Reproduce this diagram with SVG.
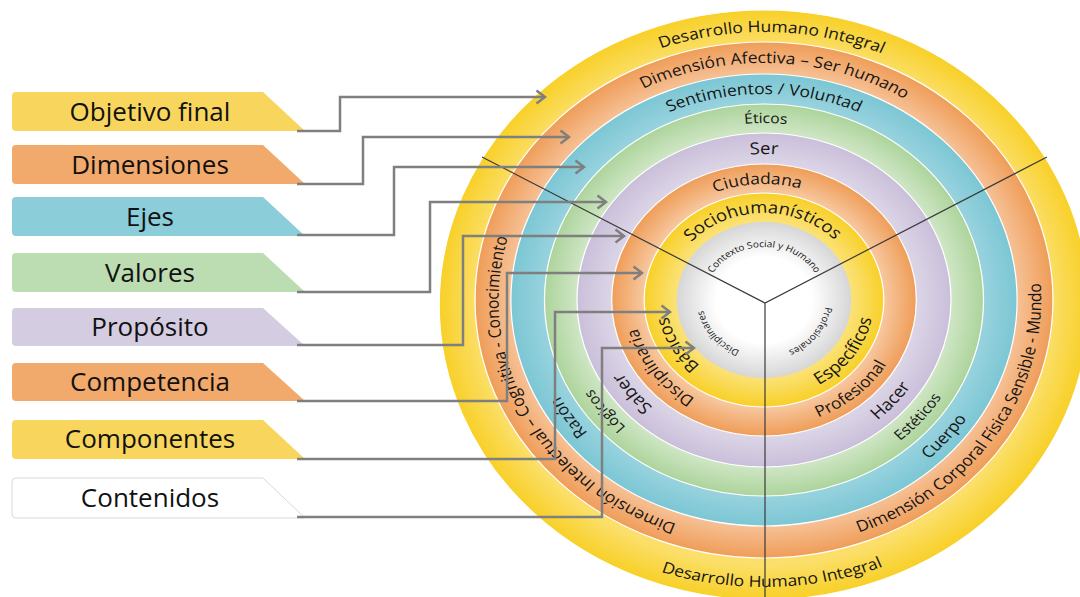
<svg xmlns="http://www.w3.org/2000/svg" xmlns:xlink="http://www.w3.org/1999/xlink" width="1080" height="597" viewBox="0 0 1080 597">
<style>
.lbl{font-family:"Open Sans","DejaVu Sans",sans-serif;font-size:26px;fill:#111111;text-anchor:middle}
.rt{font-family:"Open Sans","DejaVu Sans",sans-serif;fill:#151515;text-anchor:middle}
.f15{font-size:15.6px}.f16{font-size:16.5px}.f13{font-size:14px}.f9{font-size:9px}
.ring{stroke:#ffffff;stroke-width:1.1}
.conn{fill:none;stroke:#7f7f7f;stroke-width:2.5;marker-end:url(#arr)}
.div{fill:none;stroke:#3a3a3a;stroke-width:1.2}
</style>
<defs>
<marker id="arr" viewBox="-11 -8 13 16" refX="0" refY="0" markerWidth="13" markerHeight="16" markerUnits="userSpaceOnUse" orient="auto">
<path d="M-8.5,-6.5 L0,0 L-8.5,6.5" fill="none" stroke="#7f7f7f" stroke-width="2.5"/>
</marker>
<radialGradient id="gY1"><stop offset="0.88" stop-color="#FBDF6A"/><stop offset="1" stop-color="#F8D028"/></radialGradient>
<radialGradient id="gO1"><stop offset="0.876" stop-color="#F6C196"/><stop offset="1" stop-color="#EF9D58"/></radialGradient>
<radialGradient id="gB"><stop offset="0.867" stop-color="#98D3DE"/><stop offset="1" stop-color="#7CC6D4"/></radialGradient>
<radialGradient id="gG"><stop offset="0.852" stop-color="#CFE6C5"/><stop offset="1" stop-color="#ADD49C"/></radialGradient>
<radialGradient id="gP"><stop offset="0.814" stop-color="#DCD5E6"/><stop offset="1" stop-color="#CABFDA"/></radialGradient>
<radialGradient id="gO2"><stop offset="0.787" stop-color="#F7C8A0"/><stop offset="1" stop-color="#EF9D58"/></radialGradient>
<radialGradient id="gY2"><stop offset="0.729" stop-color="#FBE278"/><stop offset="1" stop-color="#F8D028"/></radialGradient>
<radialGradient id="gW"><stop offset="0.55" stop-color="#ffffff"/><stop offset="1" stop-color="#d6d6d6"/></radialGradient>
<path id="cw268" d="M268,0 A268,268 0 1 1 -268,0 A268,268 0 1 1 268,0"/>
<path id="cw237" d="M237,0 A237,237 0 1 1 -237,0 A237,237 0 1 1 237,0"/>
<path id="cw206" d="M206,0 A206,206 0 1 1 -206,0 A206,206 0 1 1 206,0"/>
<path id="cw177" d="M177,0 A177,177 0 1 1 -177,0 A177,177 0 1 1 177,0"/>
<path id="cw146" d="M146,0 A146,146 0 1 1 -146,0 A146,146 0 1 1 146,0"/>
<path id="cw116" d="M116,0 A116,116 0 1 1 -116,0 A116,116 0 1 1 116,0"/>
<path id="cw87" d="M87,0 A87,87 0 1 1 -87,0 A87,87 0 1 1 87,0"/>
<path id="cw53" d="M53,0 A53,53 0 1 1 -53,0 A53,53 0 1 1 53,0"/>
<path id="cw55" d="M55,0 A55,55 0 1 1 -55,0 A55,55 0 1 1 55,0"/>
<path id="ccw287" d="M-287,0 A287,287 0 1 0 287,0 A287,287 0 1 0 -287,0"/>
<path id="ccw247" d="M-247.5,0 A247.5,247.5 0 1 0 247.5,0 A247.5,247.5 0 1 0 -247.5,0"/>
<path id="ccw216" d="M-216.5,0 A216.5,216.5 0 1 0 216.5,0 A216.5,216.5 0 1 0 -216.5,0"/>
<path id="ccw186" d="M-186,0 A186,186 0 1 0 186,0 A186,186 0 1 0 -186,0"/>
<path id="ccw157" d="M-157,0 A157,157 0 1 0 157,0 A157,157 0 1 0 -157,0"/>
<path id="ccw127" d="M-127,0 A127,127 0 1 0 127,0 A127,127 0 1 0 -127,0"/>
<path id="ccw98" d="M-98,0 A98,98 0 1 0 98,0 A98,98 0 1 0 -98,0"/>
</defs>
<rect x="0" y="0" width="1080" height="597" fill="#ffffff"/>

<g id="rings" transform="translate(764,300) scale(1.12,1)">
<ellipse class="ring" cx="0" cy="5" rx="290" ry="295" fill="url(#gY1)"/>
<circle class="ring" r="258" fill="url(#gO1)"/>
<circle class="ring" r="226" fill="url(#gB)"/>
<circle class="ring" r="196" fill="url(#gG)"/>
<circle class="ring" r="167" fill="url(#gP)"/>
<circle class="ring" r="136" fill="url(#gO2)"/>
<circle class="ring" r="107" fill="url(#gY2)"/>
<circle r="78" fill="url(#gW)"/>

<text class="rt f15"><textPath href="#cw268" startOffset="75.42%">Desarrollo Humano Integral</textPath></text>
<text class="rt f15"><textPath href="#ccw287" startOffset="25.42%">Desarrollo Humano Integral</textPath></text>
<text class="rt f15"><textPath href="#cw237" startOffset="75.69%">Dimensión Afectiva – Ser humano</textPath></text>
<text class="rt f15"><textPath href="#cw237" startOffset="42.3%">Dimensión Intelectual – Cognitiva - Conocimiento</textPath></text>
<text class="rt f15"><textPath href="#ccw247" startOffset="40.83%">Dimensión Corporal Física Sensible - Mundo</textPath></text>
<text class="rt f15"><textPath href="#cw206" startOffset="75%">Sentimientos / Voluntad</textPath></text>
<text class="rt f15"><textPath href="#cw206" startOffset="40.56%">Razón</textPath></text>
<text class="rt f15"><textPath href="#ccw216" startOffset="38.8%">Cuerpo</textPath></text>
<text class="rt f13"><textPath href="#cw177" startOffset="75.14%">Éticos</textPath></text>
<text class="rt f13"><textPath href="#cw177" startOffset="39.44%">Lógicos</textPath></text>
<text class="rt f13"><textPath href="#ccw186" startOffset="38.78%">Estéticos</textPath></text>
<text class="rt f16"><textPath href="#cw146" startOffset="75%">Ser</textPath></text>
<text class="rt f16"><textPath href="#cw146" startOffset="39.3%">Saber</textPath></text>
<text class="rt f16"><textPath href="#ccw157" startOffset="38.44%">Hacer</textPath></text>
<text class="rt f15"><textPath href="#cw116" startOffset="74.17%">Ciudadana</textPath></text>
<text class="rt f15"><textPath href="#cw116" startOffset="40%">Disciplinaria</textPath></text>
<text class="rt f15"><textPath href="#ccw127" startOffset="36.39%">Profesional</textPath></text>
<text class="rt f16"><textPath href="#cw87" startOffset="74.72%">Sociohumanísticos</textPath></text>
<text class="rt f16"><textPath href="#cw87" startOffset="41.67%">Básicos</textPath></text>
<text class="rt f16"><textPath href="#ccw98" startOffset="40.14%">Específicos</textPath></text>
<text class="rt f9"><textPath href="#cw53" startOffset="75%">Contexto Social y Humano</textPath></text>
<text class="rt f9"><textPath href="#cw55" startOffset="39.17%">Disciplinares</textPath></text>
<text class="rt f9"><textPath href="#cw55" startOffset="10.28%">Profesionales</textPath></text>
</g>

<g id="dividers">
<path class="div" d="M482,157 L765,303 L1047,157 M765,303 L765,597"/>
</g>

<g id="n-objetivo"><path d="M16,92 H263 L305,131 H16 Q12,131 12,127 V96 Q12,92 16,92 Z" fill="#F8D65E"/><text class="lbl" x="150" y="121">Objetivo final</text></g>
<g id="n-dimensiones"><path d="M16,145 H263 L305,184 H16 Q12,184 12,180 V149 Q12,145 16,145 Z" fill="#F2A96C"/><text class="lbl" x="150" y="174">Dimensiones</text></g>
<g id="n-ejes"><path d="M16,197 H263 L305,236 H16 Q12,236 12,232 V201 Q12,197 16,197 Z" fill="#8BCDD9"/><text class="lbl" x="150" y="226">Ejes</text></g>
<g id="n-valores"><path d="M16,253 H263 L305,292 H16 Q12,292 12,288 V257 Q12,253 16,253 Z" fill="#BCDCB1"/><text class="lbl" x="150" y="282">Valores</text></g>
<g id="n-proposito"><path d="M16,308 H263 L305,346 H16 Q12,346 12,342 V312 Q12,308 16,308 Z" fill="#D4CCE1"/><text class="lbl" x="150" y="336">Propósito</text></g>
<g id="n-competencia"><path d="M16,363 H263 L305,401 H16 Q12,401 12,397 V367 Q12,363 16,363 Z" fill="#F2A96C"/><text class="lbl" x="150" y="391">Competencia</text></g>
<g id="n-componentes"><path d="M16,420 H263 L305,459 H16 Q12,459 12,455 V424 Q12,420 16,420 Z" fill="#F8D65E"/><text class="lbl" x="150" y="448">Componentes</text></g>
<g id="n-contenidos"><path d="M16,478 H263 L305,518 H16 Q12,518 12,514 V482 Q12,478 16,478 Z" fill="#ffffff" stroke="#d9d9d9" stroke-width="1"/><text class="lbl" x="150" y="507">Contenidos</text></g>

<g id="connectors">
<polyline class="conn" points="297,131 340,131 340,97 545,97"/>
<polyline class="conn" points="297,184 363,184 363,137 569,137"/>
<polyline class="conn" points="297,235 394,235 394,167 584,167"/>
<polyline class="conn" points="297,292 430,292 430,202 606,202"/>
<polyline class="conn" points="297,345 463,345 463,236 624,236"/>
<polyline class="conn" points="297,401 507,401 507,273 642,273"/>
<polyline class="conn" points="297,459 555,459 555,312 670,312"/>
<polyline class="conn" points="297,517 602,517 602,348 694,348"/>
</g>
</svg>
